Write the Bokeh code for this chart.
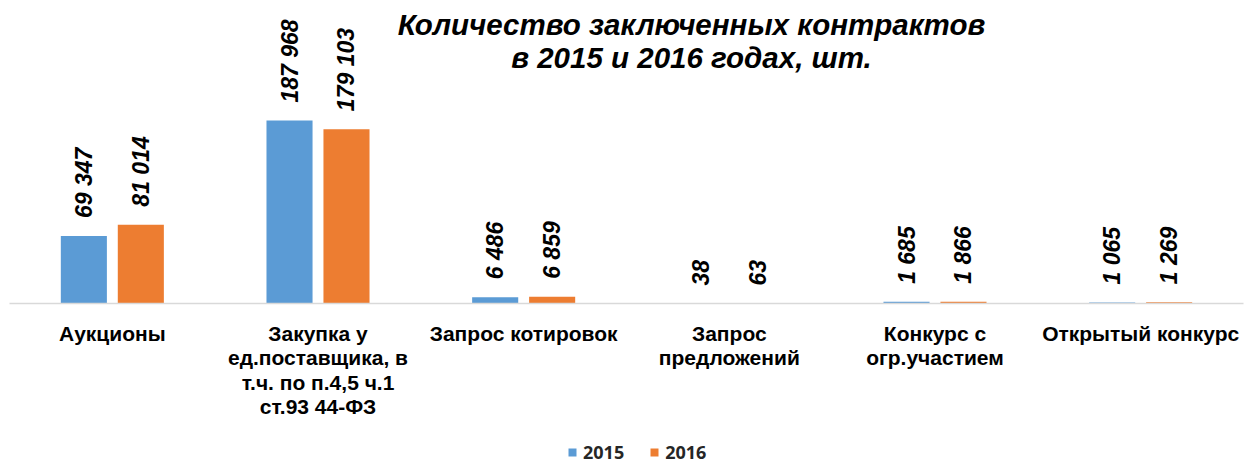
import math
from bokeh.plotting import figure
from bokeh.models import ColumnDataSource, FactorRange, Range1d, Label
from bokeh.transform import dodge
from bokeh.core.properties import value
from bokeh.embed import file_html
from bokeh.resources import INLINE

categories = [
    "Аукционы",
    "Закупка у\nед.поставщика, в\nт.ч. по п.4,5 ч.1\nст.93 44-ФЗ",
    "Запрос котировок",
    "Запрос\nпредложений",
    "Конкурс с\nогр.участием",
    "Открытый конкурс",
]
values_2015 = [69347, 187968, 6486, 38, 1685, 1065]
values_2016 = [81014, 179103, 6859, 63, 1866, 1269]
years = ["2015", "2016"]
title_lines = ["Количество заключенных контрактов", "в 2015 и 2016 годах, шт."]


def fmt(v):
    return f"{v:,}".replace(",", " ")


src = ColumnDataSource(dict(
    cat=categories,
    v2015=values_2015,
    v2016=values_2016,
    l2015=[fmt(v) for v in values_2015],
    l2016=[fmt(v) for v in values_2016],
))

W, H = 1252, 465
per_px = 1027.2  # data units per pixel
p = figure(
    width=W, height=H,
    x_range=FactorRange(factors=categories, range_padding=0.0438, range_padding_units="absolute"),
    y_range=Range1d(-162 * per_px, 303 * per_px),
    output_backend="svg", toolbar_location=None,
    y_axis_location=None,
    min_border=0, min_border_left=0, min_border_right=0, min_border_top=0, min_border_bottom=0,
)
p.outline_line_color = None
p.xgrid.grid_line_color = None
p.ygrid.grid_line_color = None
p.background_fill_color = "white"
p.border_fill_color = "white"

bw = 0.224
off = 0.1385
blue = "#5B9BD5"
orange = "#ED7D31"

p.vbar(x=dodge("cat", -off, range=p.x_range), top="v2015", bottom=0, width=bw, source=src,
       fill_color=blue, line_color=None, legend_label=years[0])
p.vbar(x=dodge("cat", off, range=p.x_range), top="v2016", bottom=0, width=bw, source=src,
       fill_color=orange, line_color=None, legend_label=years[1])

for col, lab, o in (("v2015", "l2015", -off), ("v2016", "l2016", off)):
    p.text(x=dodge("cat", o, range=p.x_range), y=col, text=lab, source=src,
           angle=math.pi / 2, text_align="left", text_baseline="middle",
           y_offset=-18, text_font=value("Liberation Sans"),
           text_font_style="bold italic", text_font_size="23px", text_color="black")

ax = p.xaxis[0]
ax.fixed_location = 0
ax.bounds = (0, 6)
ax.axis_line_color = "#d9d9d9"
ax.axis_line_width = 1.5
ax.major_tick_line_color = None
ax.minor_tick_line_color = None
ax.major_label_text_font = "Liberation Sans"
ax.major_label_text_font_style = "bold"
ax.major_label_text_font_size = "21px"
ax.major_label_text_color = "black"
ax.major_label_text_line_height = 1.07
ax.major_label_standoff = 12
ax.major_label_orientation = "horizontal"

for t, yb in zip(title_lines, [H - 24, H - 57]):
    p.add_layout(Label(x=691, y=yb, x_units="screen", y_units="screen", text=t,
                       text_align="center", text_baseline="alphabetic",
                       text_font="Liberation Sans", text_font_style="bold italic",
                       text_font_size="29.5px", text_color="black"))

lg = p.legend[0]
lg.orientation = "horizontal"
lg.location = (567, 1)
lg.padding = 0
lg.margin = 0
lg.spacing = 25
lg.border_line_color = None
lg.background_fill_alpha = 0
lg.glyph_width = 10
lg.glyph_height = 10
lg.label_height = 16
lg.label_standoff = 6
lg.label_text_font = "Open Sans"
lg.label_text_font_style = "bold"
lg.label_text_font_size = "18px"
lg.label_text_color = "#262626"

open("out.html", "w").write(file_html(p, INLINE))
